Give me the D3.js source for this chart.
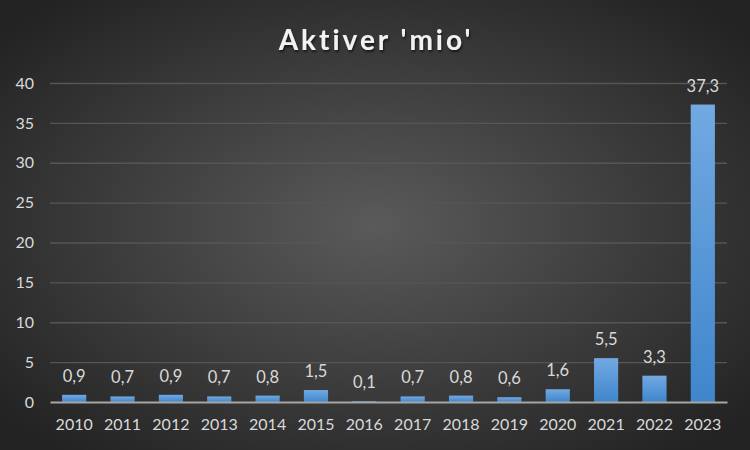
<!DOCTYPE html>
<html>
<head>
<meta charset="utf-8">
<script src="https://cdn.jsdelivr.net/npm/d3@7"></script>
<style>
  html, body { margin: 0; padding: 0; background: #333; }
  svg { display: block; font-family: Lato, "Open Sans", sans-serif; }
</style>
</head>
<body>
<svg id="chart" width="750" height="450"></svg>
<script>
"use strict";

/* ── Data ─────────────────────────────────────────── */
const years  = ["2010", "2011", "2012", "2013", "2014", "2015", "2016",
                "2017", "2018", "2019", "2020", "2021", "2022", "2023"];
const values = [0.9, 0.7, 0.9, 0.7, 0.8, 1.5, 0.1,
                0.7, 0.8, 0.6, 1.6, 5.5, 3.3, 37.3];
const yTicks = [0, 5, 10, 15, 20, 25, 30, 35, 40];

/* ── Layout ───────────────────────────────────────── */
const W = 750, H = 450;
const M = { top: 83, right: 23, bottom: 48, left: 50 };
const iW = W - M.left - M.right;
const iH = H - M.top - M.bottom;

const svg = d3.select("#chart");
const defs = svg.append("defs");

const bg = defs.append("radialGradient").attr("id", "bg")
  .attr("cx", "50%").attr("cy", "50%").attr("r", "65%");
bg.append("stop").attr("offset", "0%").attr("stop-color", "#5a5a5a");
bg.append("stop").attr("offset", "100%").attr("stop-color", "#232323");

const barGrad = defs.append("linearGradient").attr("id", "barGrad")
  .attr("x1", 0).attr("y1", 0).attr("x2", 0).attr("y2", 1);
barGrad.append("stop").attr("offset", "0%").attr("stop-color", "#72a9e2");
barGrad.append("stop").attr("offset", "100%").attr("stop-color", "#3f86cc");

const shadow = defs.append("filter").attr("id", "shadow")
  .attr("x", "-10%").attr("y", "-10%").attr("width", "120%").attr("height", "140%");
shadow.append("feDropShadow").attr("dx", 1).attr("dy", 2)
  .attr("stdDeviation", 1.2).attr("flood-color", "#000").attr("flood-opacity", 0.6);

svg.append("rect").attr("width", W).attr("height", H).attr("fill", "url(#bg)");

/* Title */
svg.append("text")
  .attr("x", W / 2 + 1).attr("y", 50)
  .attr("text-anchor", "middle")
  .attr("fill", "#f2f2f2")
  .attr("font-size", 28).attr("font-weight", "bold")
  .attr("letter-spacing", 3)
  .attr("filter", "url(#shadow)")
  .text("Aktiver 'mio'");

const g = svg.append("g").attr("transform", `translate(${M.left},${M.top})`);

/* Scales */
const x = d3.scaleBand().domain(years).range([0, iW]).paddingInner(0.5).paddingOuter(0.25);
const y = d3.scaleLinear().domain([0, 40]).range([iH, 0]);

/* Gridlines */
g.append("g")
  .call(d3.axisLeft(y).tickValues(yTicks.slice(1)).tickSize(-iW).tickFormat(""))
  .call(a => {
    a.select(".domain").remove();
    a.selectAll("line").attr("stroke", "#565656").attr("stroke-width", 1.3);
  });

/* Y axis labels */
g.append("g")
  .call(d3.axisLeft(y).tickValues(yTicks).tickSize(0).tickPadding(16))
  .call(a => {
    a.select(".domain").remove();
    a.selectAll("text").attr("fill", "#d9d9d9").attr("font-size", 16)
      .attr("font-family", "Lato, 'Open Sans', sans-serif");
  });

/* Bars */
g.selectAll(".bar")
  .data(values)
  .join("rect")
  .attr("class", "bar")
  .attr("x", (d, i) => x(years[i]))
  .attr("y", d => y(d))
  .attr("width", x.bandwidth())
  .attr("height", d => iH - y(d))
  .attr("fill", "url(#barGrad)");

/* Value labels */
g.selectAll(".val")
  .data(values)
  .join("text")
  .attr("class", "val")
  .attr("x", (d, i) => x(years[i]) + x.bandwidth() / 2)
  .attr("y", d => y(d) - 13)
  .attr("text-anchor", "middle")
  .attr("fill", "#d9d9d9")
  .attr("font-size", 16.5)
  .text(d => d3.format(".1f")(d).replace(".", ","));

/* X axis */
g.append("g")
  .attr("transform", `translate(0,${iH})`)
  .call(d3.axisBottom(x).tickSize(0).tickPadding(17))
  .call(a => {
    a.select(".domain").attr("stroke", "#a6a6a6").attr("stroke-width", 1.8);
    a.selectAll("text").attr("fill", "#d9d9d9").attr("font-size", 16)
      .attr("font-family", "Lato, 'Open Sans', sans-serif");
  });
</script>
</body>
</html>
